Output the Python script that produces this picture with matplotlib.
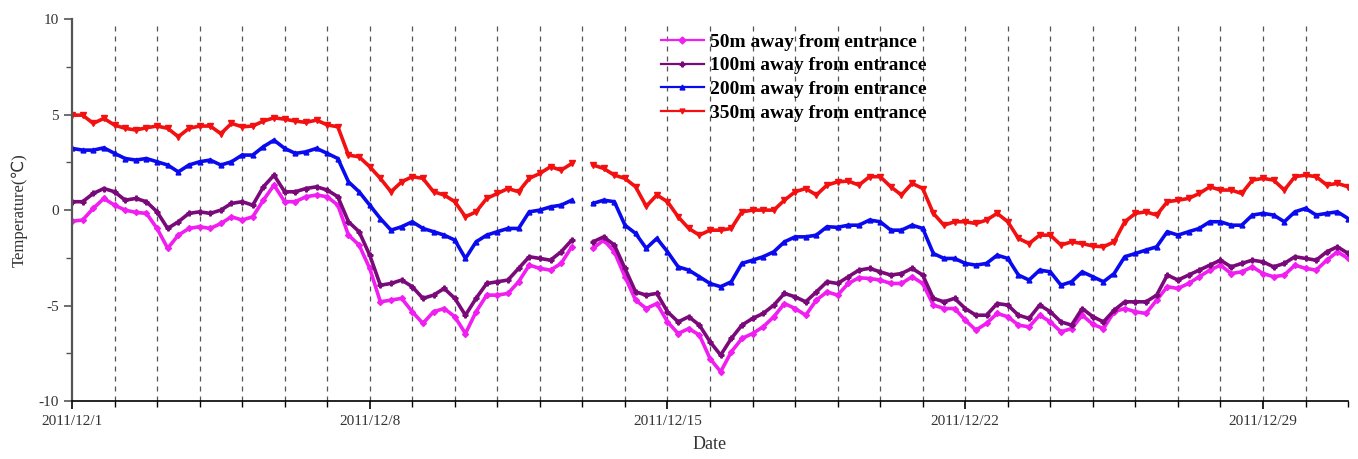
import matplotlib
matplotlib.use("Agg")
import matplotlib.pyplot as plt
import matplotlib.dates as mdates
import numpy as np
import pandas as pd

plt.rcParams['font.family'] = ['Liberation Serif', 'DejaVu Sans']
plt.rcParams['axes.unicode_minus'] = False

# readings every 6 hours from 2011/12/1 00:00 to 2011/12/31 00:00 (nan = no data)
times = pd.date_range('2011-12-01', '2011-12-31', freq='6h')

t50 = [-0.58, -0.52, 0.09, 0.61, 0.26, 0, -0.12, -0.17, -0.96, -2.0, -1.31, -0.96, -0.87,
       -0.96, -0.7, -0.35, -0.52, -0.35, 0.52, 1.31, 0.44, 0.44, 0.7, 0.79, 0.7,
       0.26, -1.31, -1.83, -3.05, -4.8, -4.71, -4.62, -5.32, -5.93, -5.32, -5.15, -5.58,
       -6.46, -5.32, -4.45, -4.45, -4.36, -3.75, -2.88, -3.05, -3.14, -2.79, -1.92,
       np.nan, -2.0,
       -1.57, -2.18, -3.49, -4.71, -5.15, -4.89, -5.85, -6.46, -6.2, -6.54, -7.77, -8.46,
       -7.42, -6.72, -6.46, -6.11, -5.58, -4.89, -5.15, -5.5, -4.71, -4.28, -4.45,
       -3.84, -3.54, -3.58, -3.66, -3.84, -3.84, -3.49, -3.84, -4.97, -5.15, -5.15, -5.76,
       -6.28, -5.93, -5.41, -5.58, -6.02, -6.11, -5.5, -5.85, -6.37, -6.2, -5.5, -5.98,
       -6.2, -5.32, -5.15, -5.32, -5.41, -4.71, -4.01, -4.1, -3.84, -3.49, -3.14, -2.88,
       -3.32, -3.23, -2.97, -3.32, -3.49, -3.4, -2.88, -3.05, -3.14, -2.62, -2.18, -2.53]

t100 = [0.44, 0.44, 0.87, 1.13, 0.96, 0.52, 0.61, 0.44, -0.09, -0.96, -0.61, -0.17, -0.09,
        -0.17, 0, 0.35, 0.44, 0.26, 1.22, 1.83, 0.96, 0.96, 1.13, 1.22, 1.05,
        0.7, -0.61, -1.13, -2.36, -3.93, -3.84, -3.66, -4.01, -4.62, -4.45, -4.1, -4.62,
        -5.5, -4.62, -3.84, -3.75, -3.66, -3.05, -2.44, -2.53, -2.62, -2.18, -1.57,
        np.nan, -1.66,
        -1.4, -1.83, -3.05, -4.28, -4.45, -4.36, -5.32, -5.85, -5.58, -6.02, -6.89, -7.59,
        -6.72, -6.02, -5.67, -5.41, -4.97, -4.36, -4.54, -4.8, -4.28, -3.75, -3.84,
        -3.49, -3.14, -3.05, -3.23, -3.4, -3.32, -3.05, -3.4, -4.62, -4.8, -4.62, -5.15,
        -5.5, -5.5, -4.89, -4.97, -5.5, -5.67, -4.97, -5.32, -5.85, -6.02, -5.15, -5.58,
        -5.85, -5.24, -4.8, -4.8, -4.8, -4.45, -3.4, -3.66, -3.4, -3.14, -2.88, -2.62,
        -2.97, -2.79, -2.62, -2.71, -2.97, -2.79, -2.44, -2.53, -2.62, -2.18, -1.92, -2.27]

t200 = [3.23, 3.14, 3.14, 3.26, 2.97, 2.7, 2.62, 2.7, 2.53, 2.36, 2.0, 2.36, 2.53,
        2.62, 2.36, 2.53, 2.88, 2.88, 3.32, 3.66, 3.23, 2.97, 3.05, 3.23, 2.97,
        2.7, 1.48, 0.96, 0.26, -0.44, -1.05, -0.87, -0.61, -0.96, -1.13, -1.31, -1.57,
        -2.53, -1.66, -1.31, -1.13, -0.96, -0.96, -0.09, 0, 0.17, 0.26, 0.52,
        np.nan, 0.35,
        0.52, 0.44, -0.79, -1.22, -2.0, -1.48, -2.18, -2.97, -3.14, -3.49, -3.84, -4.01,
        -3.75, -2.79, -2.62, -2.44, -2.18, -1.66, -1.4, -1.4, -1.31, -0.87, -0.9,
        -0.79, -0.79, -0.52, -0.61, -1.05, -1.05, -0.79, -0.96, -2.27, -2.53, -2.53, -2.79,
        -2.88, -2.79, -2.36, -2.53, -3.4, -3.66, -3.14, -3.23, -3.93, -3.75, -3.23, -3.49,
        -3.75, -3.32, -2.44, -2.27, -2.09, -1.92, -1.13, -1.31, -1.13, -0.96, -0.61, -0.61,
        -0.79, -0.79, -0.26, -0.17, -0.26, -0.61, -0.09, 0.09, -0.26, -0.17, -0.09, -0.44]

t350 = [4.97, 4.97, 4.54, 4.8, 4.45, 4.28, 4.19, 4.31, 4.4, 4.28, 3.84, 4.28, 4.4,
        4.4, 4.0, 4.54, 4.36, 4.4, 4.66, 4.83, 4.76, 4.66, 4.59, 4.71, 4.46,
        4.36, 2.88, 2.79, 2.27, 1.66, 0.96, 1.48, 1.75, 1.66, 0.96, 0.79, 0.44,
        -0.35, -0.09, 0.61, 0.87, 1.13, 0.96, 1.66, 1.92, 2.27, 2.09, 2.44,
        np.nan, 2.36,
        2.18, 1.83, 1.66, 1.22, 0.2, 0.79, 0.44, -0.35, -0.96, -1.31, -1.05, -1.05,
        -0.96, -0.09, 0, 0, 0, 0.52, 0.96, 1.13, 0.79, 1.31, 1.48,
        1.52, 1.31, 1.75, 1.75, 1.22, 0.79, 1.4, 1.13, -0.17, -0.79, -0.61, -0.61,
        -0.7, -0.52, -0.17, -0.61, -1.48, -1.75, -1.31, -1.31, -1.83, -1.66, -1.75, -1.88,
        -1.92, -1.66, -0.61, -0.17, -0.09, -0.26, 0.44, 0.52, 0.61, 0.87, 1.22, 1.05,
        1.05, 0.87, 1.57, 1.66, 1.57, 1.05, 1.75, 1.83, 1.75, 1.31, 1.4, 1.22]

labels = ['50m away from entrance', '100m away from entrance',
          '200m away from entrance', '350m away from entrance']

fig = plt.figure(figsize=(13.58, 4.59), dpi=100)
ax = fig.add_axes([0.053, 0.126, 0.9397, 0.8325])

ax.plot(times, t50, color='#f01ef0', lw=2.6, marker='D', ms=3, label=labels[0])
ax.plot(times, t100, color='#7a0a7a', lw=2.6, marker='P', ms=3.5, label=labels[1])
ax.plot(times, t200, color='#0a0aee', lw=2.6, marker='^', ms=3.5, label=labels[2])
ax.plot(times, t350, color='#f21010', lw=2.6, marker='v', ms=5, label=labels[3])

start = pd.Timestamp('2011-12-01')
end = pd.Timestamp('2011-12-31')
ax.set_xlim(start, end)
ax.set_ylim(-10, 10)

# dashed line at every day
for d in pd.date_range('2011-12-02', '2011-12-30', freq='D'):
    ax.axvline(d, ymax=0.985, color='#555555', ls=(0, (4, 4)), lw=0.9, zorder=0)

ax.xaxis.set_major_locator(mdates.DayLocator(bymonthday=[1, 8, 15, 22, 29]))
ax.xaxis.set_minor_locator(mdates.DayLocator())
ax.xaxis.set_major_formatter(plt.FuncFormatter(
    lambda v, p: "{0}/{1}/{2}".format(mdates.num2date(v).year, mdates.num2date(v).month,
                                      mdates.num2date(v).day)))
ax.set_yticks([-10, -5, 0, 5, 10])
ax.set_yticks([-7.5, -2.5, 2.5, 7.5], minor=True)

ax.spines['top'].set_visible(False)
ax.spines['right'].set_visible(False)
ax.spines['left'].set_color('#555555')
ax.spines['left'].set_linewidth(1.6)
ax.spines['bottom'].set_linewidth(1.2)
ax.tick_params(which='major', length=6, width=1.2, labelsize=11, labelcolor='#333333')
ax.tick_params(which='minor', length=4, width=1.0)
ax.tick_params(axis='y', which='both', color='#555555')
ax.tick_params(axis='x', pad=4)

ax.set_xlabel('Date', fontsize=13, color='#333333', labelpad=6)
ax.set_ylabel('Temperature(\u2103)', fontsize=12, color='#333333', labelpad=8)

leg = ax.legend(loc='upper left', bbox_to_anchor=(0.481, 0.945), bbox_transform=fig.transFigure,
                frameon=False, prop={'family': ['Liberation Serif'], 'weight': 'bold', 'size': 14},
                handlelength=2.2, handletextpad=0.3, labelspacing=0.32, borderaxespad=0)
for h in leg.legend_handles:
    h.set_linewidth(1.6)
    h.set_markersize(3.5)

fig.savefig('out.png', dpi=100)
